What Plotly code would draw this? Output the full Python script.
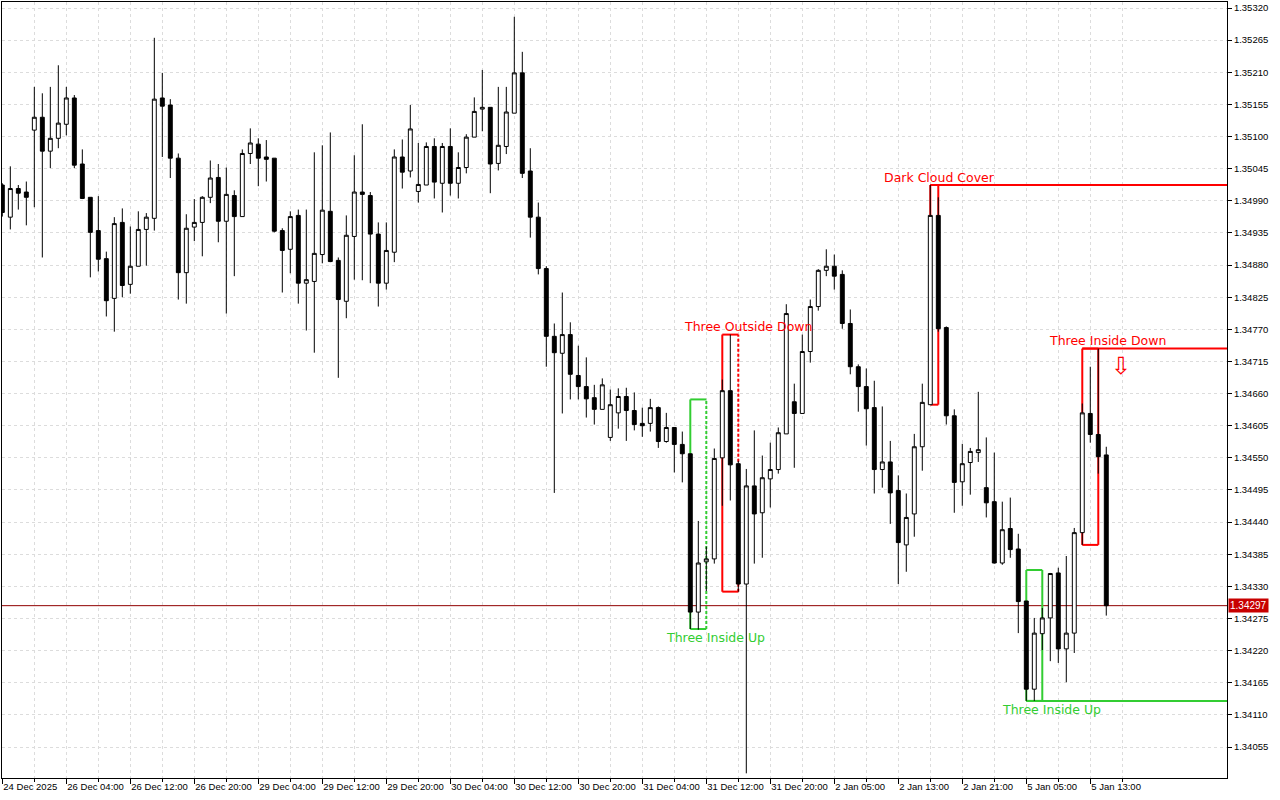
import plotly.graph_objects as go

# ---------------- data (hourly candles) ----------------
bar_index = list(range(139))

opens = [1.35017, 1.34962, 1.35011, 1.35005, 1.35111, 1.35133, 1.35075, 1.35097, 1.35121, 1.35166,
         1.35053, 1.34996, 1.34939, 1.34891, 1.34823, 1.34953, 1.34847, 1.34878, 1.34941, 1.34960,
         1.35166, 1.35154, 1.35063, 1.34867, 1.34945, 1.34953, 1.34996, 1.35030, 1.34955, 1.34999,
         1.34963, 1.35071, 1.35087, 1.35065, 1.35063, 1.34939, 1.34907, 1.34965, 1.34849, 1.34852,
         1.34898, 1.34972, 1.34888, 1.34818, 1.34929, 1.35005, 1.34999, 1.34933, 1.34849, 1.34902,
         1.35065, 1.35041, 1.35006, 1.35017, 1.35083, 1.35020, 1.35083, 1.35020, 1.35047, 1.35099,
         1.35147, 1.35150, 1.35054, 1.35083, 1.35140, 1.35209, 1.35041, 1.34962, 1.34874, 1.34758,
         1.34729, 1.34761, 1.34691, 1.34672, 1.34653, 1.34633, 1.34585, 1.34627, 1.34655, 1.34631,
         1.34609, 1.34609, 1.34636, 1.34578, 1.34602, 1.34573, 1.34557, 1.34286, 1.34372, 1.34377,
         1.34550, 1.34665, 1.34540, 1.34334, 1.34502, 1.34456, 1.34514, 1.34530, 1.34591, 1.34646,
         1.34626, 1.34732, 1.34809, 1.34871, 1.34878, 1.34864, 1.34780, 1.34706, 1.34672, 1.34636,
         1.34530, 1.34543, 1.34494, 1.34401, 1.34454, 1.34569, 1.34641, 1.34965, 1.34773, 1.34622,
         1.34509, 1.34542, 1.34559, 1.34499, 1.34475, 1.34370, 1.34429, 1.34394, 1.34305, 1.34154,
         1.34249, 1.34276, 1.34353, 1.34223, 1.34250, 1.34422, 1.34626, 1.34590, 1.34555]

highs = [1.35020, 1.35049, 1.35017, 1.35023, 1.35185, 1.35174, 1.35185, 1.35222, 1.35185, 1.35171,
         1.35078, 1.34996, 1.34998, 1.34903, 1.34962, 1.34977, 1.34946, 1.34972, 1.34969, 1.35269,
         1.35209, 1.35164, 1.35071, 1.34967, 1.34993, 1.34998, 1.35059, 1.35053, 1.35047, 1.35008,
         1.35078, 1.35114, 1.35097, 1.35094, 1.35063, 1.34943, 1.34972, 1.34975, 1.34975, 1.35073,
         1.35085, 1.35107, 1.34893, 1.34965, 1.35068, 1.35121, 1.35005, 1.34953, 1.34953, 1.35078,
         1.35095, 1.35154, 1.35089, 1.35090, 1.35097, 1.35089, 1.35114, 1.35073, 1.35104, 1.35167,
         1.35214, 1.35150, 1.35185, 1.35185, 1.35305, 1.35245, 1.35080, 1.34987, 1.34878, 1.34780,
         1.34833, 1.34782, 1.34742, 1.34722, 1.34675, 1.34686, 1.34667, 1.34669, 1.34670, 1.34662,
         1.34636, 1.34651, 1.34638, 1.34627, 1.34602, 1.34595, 1.34557, 1.34442, 1.34398, 1.34566,
         1.34684, 1.34761, 1.34545, 1.34531, 1.34597, 1.34554, 1.34576, 1.34602, 1.34813, 1.34677,
         1.34761, 1.34821, 1.34873, 1.34907, 1.34898, 1.34871, 1.34804, 1.34710, 1.34703, 1.34682,
         1.34638, 1.34579, 1.34520, 1.34489, 1.34591, 1.34677, 1.35017, 1.34996, 1.34775, 1.34633,
         1.34574, 1.34567, 1.34663, 1.34585, 1.34559, 1.34475, 1.34482, 1.34420, 1.34305, 1.34276,
         1.34293, 1.34353, 1.34362, 1.34382, 1.34430, 1.34643, 1.34706, 1.34737, 1.34569]

lows = [1.34963, 1.34941, 1.34975, 1.34948, 1.34979, 1.34893, 1.35046, 1.35080, 1.35102, 1.35046,
        1.34993, 1.34859, 1.34869, 1.34792, 1.34766, 1.34825, 1.34831, 1.34878, 1.34879, 1.34939,
        1.35065, 1.35029, 1.34821, 1.34814, 1.34921, 1.34895, 1.34986, 1.34919, 1.34797, 1.34861,
        1.34963, 1.35053, 1.35015, 1.35023, 1.34936, 1.34833, 1.34866, 1.34814, 1.34768, 1.34730,
        1.34883, 1.34885, 1.34687, 1.34789, 1.34855, 1.34854, 1.34849, 1.34809, 1.34838, 1.34885,
        1.35011, 1.35030, 1.34987, 1.35017, 1.34994, 1.34970, 1.34999, 1.34994, 1.35037, 1.35099,
        1.35109, 1.35003, 1.35042, 1.35070, 1.35140, 1.35029, 1.34927, 1.34864, 1.34706, 1.34490,
        1.34626, 1.34650, 1.34650, 1.34619, 1.34607, 1.34633, 1.34579, 1.34600, 1.34579, 1.34597,
        1.34586, 1.34595, 1.34567, 1.34576, 1.34525, 1.34508, 1.34257, 1.34256, 1.34322, 1.34369,
        1.34468, 1.34477, 1.34321, 1.34010, 1.34369, 1.34379, 1.34465, 1.34523, 1.34591, 1.34533,
        1.34626, 1.34713, 1.34802, 1.34861, 1.34838, 1.34771, 1.34693, 1.34629, 1.34571, 1.34489,
        1.34499, 1.34437, 1.34334, 1.34355, 1.34415, 1.34528, 1.34641, 1.34766, 1.34607, 1.34456,
        1.34468, 1.34487, 1.34543, 1.34448, 1.34369, 1.34367, 1.34379, 1.34250, 1.34134, 1.34134,
        1.34221, 1.34202, 1.34199, 1.34166, 1.34216, 1.34401, 1.34576, 1.34523, 1.34280]

closes = [1.34970, 1.35011, 1.35003, 1.34996, 1.35133, 1.35075, 1.35097, 1.35123, 1.35166, 1.35051,
          1.34994, 1.34936, 1.34890, 1.34819, 1.34951, 1.34845, 1.34878, 1.34941, 1.34962, 1.35164,
          1.35152, 1.35063, 1.34867, 1.34943, 1.34953, 1.34996, 1.35029, 1.34955, 1.35001, 1.34963,
          1.35071, 1.35089, 1.35063, 1.35061, 1.34938, 1.34905, 1.34963, 1.34849, 1.34855, 1.34900,
          1.34974, 1.34886, 1.34821, 1.34931, 1.35005, 1.35001, 1.34933, 1.34849, 1.34905, 1.35065,
          1.35039, 1.35113, 1.35018, 1.35083, 1.35022, 1.35083, 1.35020, 1.35047, 1.35099, 1.35143,
          1.35150, 1.35053, 1.35085, 1.35142, 1.35209, 1.35037, 1.34962, 1.34874, 1.34758, 1.34730,
          1.34761, 1.34693, 1.34672, 1.34651, 1.34633, 1.34675, 1.34641, 1.34655, 1.34631, 1.34607,
          1.34605, 1.34636, 1.34578, 1.34602, 1.34573, 1.34557, 1.34286, 1.34370, 1.34377, 1.34549,
          1.34665, 1.34538, 1.34334, 1.34502, 1.34454, 1.34516, 1.34530, 1.34593, 1.34797, 1.34626,
          1.34732, 1.34809, 1.34871, 1.34878, 1.34861, 1.34780, 1.34706, 1.34672, 1.34634, 1.34530,
          1.34543, 1.34490, 1.34405, 1.34448, 1.34569, 1.34645, 1.34965, 1.34771, 1.34622, 1.34508,
          1.34540, 1.34561, 1.34564, 1.34473, 1.34370, 1.34427, 1.34393, 1.34304, 1.34154, 1.34250,
          1.34276, 1.34352, 1.34223, 1.34250, 1.34422, 1.34627, 1.34590, 1.34552, 1.34297]

tick_index = [0, 8, 16, 24, 32, 40, 48, 56, 64, 72, 80, 88, 96, 104, 112, 120, 128, 136]
tick_labels = ["24 Dec 2025", "26 Dec 04:00", "26 Dec 12:00", "26 Dec 20:00", "29 Dec 04:00",
               "29 Dec 12:00", "29 Dec 20:00", "30 Dec 04:00", "30 Dec 12:00", "30 Dec 20:00",
               "31 Dec 04:00", "31 Dec 12:00", "31 Dec 20:00", "2 Jan 05:00", "2 Jan 13:00",
               "2 Jan 21:00", "5 Jan 05:00", "5 Jan 13:00"]

last_price = 1.34297

# candlestick patterns
pattern_names = ["Three Inside Up", "Three Outside Down", "Dark Cloud Cover", "Three Inside Up", "Three Inside Down"]
pattern_start = [86, 90, 116, 128, 135]
pattern_end = [88, 92, 117, 130, 137]
pattern_top = [1.34650, 1.34761, 1.35017, 1.34358, 1.34737]
pattern_bottom = [1.34257, 1.34321, 1.34641, 1.34134, 1.34401]
pattern_bullish = [True, False, False, True, False]
pattern_level = [None, None, "top", "bottom", "top"]
pattern_label_x = [89.2, 93.2, 117.2, 131.2, 138.2]
pattern_label_y = [1.34242, 1.34775, 1.35030, 1.34120, 1.34751]

# ---------------- figure ----------------
X_MIN, X_MAX = -0.04, 153.09
Y_MIN, Y_MAX = 1.34002, 1.353303
RED = "#ff0000"
GREEN = "#32cd32"
GRID = "#dcdcdc"
AXFONT = dict(family="Liberation Sans, Arial, sans-serif", size=9.5, color="black")

fig = go.Figure()
fig.add_trace(go.Candlestick(
    x=bar_index, open=opens, high=highs, low=lows, close=closes,
    increasing=dict(line=dict(color="black", width=1), fillcolor="white"),
    decreasing=dict(line=dict(color="black", width=1), fillcolor="black"),
    whiskerwidth=0, showlegend=False, hoverinfo="skip",
))

shapes = []
annotations = []
for i, name in enumerate(pattern_names):
    col = GREEN if pattern_bullish[i] else RED
    x0, x1 = pattern_start[i], pattern_end[i]
    top, bot = pattern_top[i], pattern_bottom[i]
    solid = dict(color=col, width=2)
    shapes.append(dict(type="line", xref="x", yref="y", x0=x0, x1=x0, y0=bot, y1=top, line=solid, layer="between"))
    shapes.append(dict(type="line", xref="x", yref="y", x0=x0, x1=x1, y0=top, y1=top, line=solid, layer="between"))
    shapes.append(dict(type="line", xref="x", yref="y", x0=x0, x1=x1, y0=bot, y1=bot, line=solid, layer="between"))
    right = dict(color=col, width=2, dash="3px,2px") if i < 2 else solid
    shapes.append(dict(type="line", xref="x", yref="y", x0=x1, x1=x1, y0=bot, y1=top, line=right, layer="between"))
    if pattern_level[i] is not None:
        lv = top if pattern_level[i] == "top" else bot
        shapes.append(dict(type="line", xref="x", yref="y", x0=x0, x1=X_MAX, y0=lv, y1=lv,
                           line=solid, layer="between"))
    annotations.append(dict(x=pattern_label_x[i], y=pattern_label_y[i], xref="x", yref="y",
                            text=name, showarrow=False, xanchor="center", yanchor="middle",
                            font=dict(family="DejaVu Sans, sans-serif", size=12.5, color=col)))

# sell arrow next to the last pattern
annotations.append(dict(x=139.9, y=1.34707, xref="x", yref="y", text="⇩", showarrow=False,
                        xanchor="center", yanchor="middle", borderpad=0,
                        font=dict(family="DejaVu Sans, sans-serif", size=24, color=RED)))

# last price line + label
shapes.append(dict(type="line", xref="paper", yref="y", x0=0, x1=1, y0=last_price, y1=last_price,
                   line=dict(color="#900000", width=1), layer="between"))
annotations.append(dict(x=1, y=last_price, xref="paper", yref="y", text=f"{last_price:.5f}",
                        showarrow=False, xanchor="left", yanchor="middle", xshift=1,
                        bgcolor="#c80000", borderpad=1,
                        font=dict(family="Liberation Sans, Arial, sans-serif", size=10, color="white")))

fig.update_layout(
    width=1280, height=800, autosize=False,
    margin=dict(l=2, r=53, t=2, b=22, autoexpand=False),
    paper_bgcolor="white", plot_bgcolor="white",
    showlegend=False, boxgap=0.3,
    shapes=shapes, annotations=annotations,
    xaxis=dict(
        range=[X_MIN, X_MAX], rangeslider=dict(visible=False),
        tickmode="array", tickvals=tick_index, ticktext=tick_labels,
        ticks="outside", ticklen=5, tickcolor="black", tickwidth=1, tickangle=0,
        ticklabelposition="outside right", tickfont=AXFONT, automargin=False,
        showgrid=True, gridcolor=GRID, griddash="3px,3px", gridwidth=1,
        minor=dict(tickvals=[t + 4 for t in tick_index], ticks="outside", ticklen=3,
                   tickcolor="black", showgrid=True, gridcolor=GRID, griddash="3px,3px"),
        showline=True, linecolor="black", linewidth=1, mirror=True, zeroline=False,
    ),
    yaxis=dict(
        range=[Y_MIN, Y_MAX], side="right", automargin=False,
        tick0=1.35320, dtick=0.00055, tickformat=".5f",
        ticks="outside", ticklen=4, tickcolor="black", tickfont=AXFONT,
        showgrid=True, gridcolor=GRID, griddash="3px,3px", gridwidth=1,
        showline=True, linecolor="black", linewidth=1, mirror=True, zeroline=False,
    ),
)

fig.write_html("out.html", config={"displayModeBar": False, "responsive": False},
               post_script="document.body.style.margin='0';document.body.style.padding='0';")
